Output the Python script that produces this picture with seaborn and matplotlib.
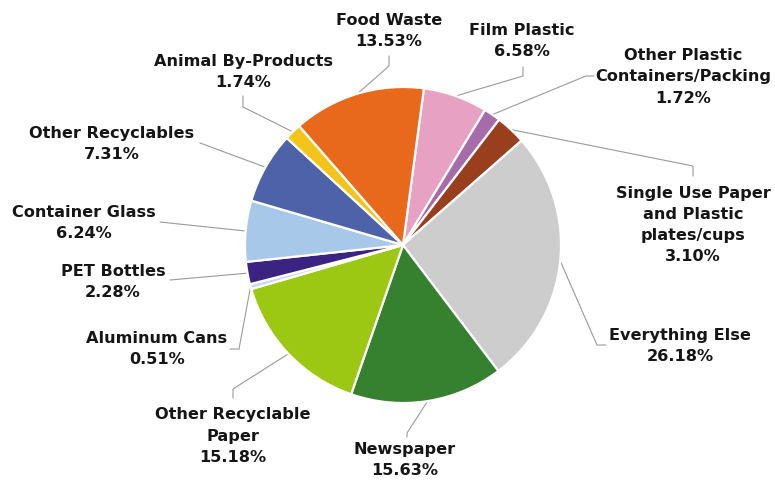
import numpy as np
import matplotlib
matplotlib.use("Agg")
import matplotlib.pyplot as plt
import seaborn as sns

# ---- data (clockwise order from the top) ----
categories = ["Film Plastic", "Other Plastic\nContainers/Packing",
              "Single Use Paper\nand Plastic\nplates/cups", "Everything Else",
              "Newspaper", "Other Recyclable\nPaper", "Aluminum Cans",
              "PET Bottles", "Container Glass", "Other Recyclables",
              "Animal By-Products", "Food Waste"]
values = [6.58, 1.72, 3.10, 26.18, 15.63, 15.18, 0.51, 2.28, 6.24, 7.31, 1.74, 13.53]
colors = ["#E7A1C2", "#A86BAA", "#9A3F1D", "#CDCDCD", "#35812F", "#9CC814",
          "#C5DAF0", "#3A2381", "#A8C8EA", "#4E62AA", "#F3C51B", "#E8691B"]

# label placement (pixel coordinates, y from top) and leader elbows
label_xy = [(522, 41), (683, 77), (693, 225), (680, 346), (405, 460), (233, 436),
            (157, 349), (113, 282), (84, 223), (112, 144), (243, 72), (389, 31)]
elbows = [[(523, 67), (523, 76)], [(594, 76), (586, 76)], [(693, 176), (693, 166)],
          [(606, 345), (597, 345)], [(407, 437), (407, 433)], [(233, 398), (233, 389)],
          [(230, 349), (239, 349)], [(170, 280)], [(160, 222)], [(200, 143)],
          [(243, 96), (243, 107)], [(389, 56), (389, 66)]]

W, H = 775, 483
sns.set_theme(style="white")
plt.rcParams['font.family'] = ['DejaVu Sans']

fig = plt.figure(figsize=(W / 100, H / 100), dpi=100)
ax = fig.add_axes([0, 0, 1, 1])

cx, cy, R = 403, H - 245, 158
start = 90 - 7.6
wedges, _ = ax.pie(values, colors=colors, startangle=start, counterclock=False,
                   center=(cx, cy), radius=R, frame=True,
                   wedgeprops=dict(edgecolor="white", linewidth=1.6))

for w, cat, v, (lx, ly), elb in zip(wedges, categories, values, label_xy, elbows):
    ang = np.deg2rad((w.theta1 + w.theta2) / 2)
    px, py = cx + R * np.cos(ang), cy + R * np.sin(ang)
    pts = [(x, H - y) for x, y in elb] + [(px, py)]
    xs, ys = zip(*pts)
    ax.plot(xs, ys, color="#9a9a9a", lw=0.8, zorder=0.5)
    ax.text(lx, H - ly, f"{cat}\n{v:.2f}%", ha="center", va="center",
            fontsize=11.6, fontweight="bold", color="#151515", linespacing=1.52)

ax.set_xlim(0, W)
ax.set_ylim(0, H)
ax.set_aspect("equal")
ax.axis("off")
fig.savefig("out.png", dpi=100, facecolor="white")
